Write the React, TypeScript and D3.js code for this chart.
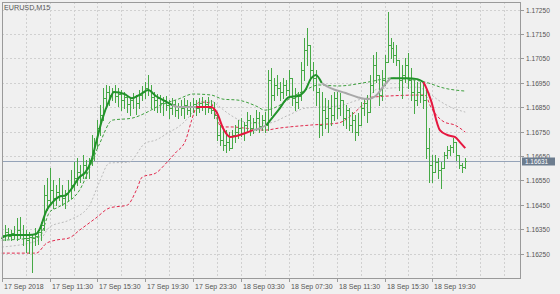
import React from "react";
import * as d3 from "d3";

const SYMBOL = "EURUSD,M15";

const opens = [
  1.16314, 1.16326, 1.16338, 1.16322, 1.16334, 1.16326, 1.16346, 1.1633, 1.16314, 1.16305,
  1.16318, 1.16314, 1.16322, 1.16338, 1.16367, 1.1649, 1.16469, 1.1651, 1.16478, 1.16502,
  1.1649, 1.16478, 1.16498, 1.1651, 1.16531, 1.1656, 1.16584, 1.16572, 1.16613, 1.166,
  1.16633, 1.16674, 1.16707, 1.16764, 1.16818, 1.16887, 1.16912, 1.169, 1.16912, 1.16896,
  1.16904, 1.16879, 1.16891, 1.16863, 1.16879, 1.16891, 1.16867, 1.169, 1.16912, 1.16928,
  1.1692, 1.16891, 1.16879, 1.16887, 1.16867, 1.16879, 1.16859, 1.16846, 1.16863, 1.16838,
  1.16855, 1.16846, 1.16859, 1.16838, 1.16855, 1.16863, 1.16846, 1.16867, 1.16855, 1.16863,
  1.16846, 1.16838, 1.16818, 1.16736, 1.16715, 1.16695, 1.16707, 1.16682, 1.16736, 1.16748,
  1.16764, 1.16744, 1.16777, 1.16797, 1.16764, 1.16789, 1.16805, 1.16773, 1.16797, 1.16777,
  1.16961, 1.169, 1.16941, 1.16928, 1.16912, 1.16941, 1.1692, 1.16969, 1.16887, 1.16871,
  1.16896, 1.17002, 1.17084, 1.17105, 1.17002, 1.16969, 1.16912, 1.16777, 1.16838, 1.16805,
  1.16846, 1.16818, 1.16887, 1.16846, 1.16879, 1.16805, 1.16838, 1.16777, 1.16797, 1.16748,
  1.16777, 1.16846, 1.16867, 1.1683, 1.16941, 1.17023, 1.16982, 1.169, 1.16961, 1.17035,
  1.17105, 1.17092, 1.17064, 1.17043, 1.16961, 1.16982, 1.17023, 1.16961, 1.16912, 1.16879,
  1.16912, 1.169, 1.16879, 1.16682, 1.16613, 1.16584, 1.16625, 1.16592, 1.166, 1.16654,
  1.16674, 1.16687, 1.16707, 1.16654, 1.16613, 1.16605,
];
const highs = [
  1.16359, 1.16367, 1.16355, 1.16346, 1.16363, 1.16396, 1.164, 1.16367, 1.16346, 1.16338,
  1.16326, 1.16355, 1.16346, 1.16379, 1.16531, 1.1656, 1.166, 1.16551, 1.16531, 1.1656,
  1.16531, 1.1651, 1.16551, 1.16592, 1.16625, 1.16641, 1.16613, 1.16654, 1.16633, 1.16641,
  1.16736, 1.16723, 1.16797, 1.16859, 1.16928, 1.16941, 1.16937, 1.16928, 1.16941, 1.16928,
  1.1692, 1.16912, 1.169, 1.16887, 1.16908, 1.169, 1.1692, 1.16937, 1.16953, 1.16982,
  1.16941, 1.16912, 1.16904, 1.169, 1.16891, 1.16896, 1.16879, 1.16887, 1.16879, 1.16867,
  1.16879, 1.16887, 1.16879, 1.16871, 1.16887, 1.16879, 1.16887, 1.16891, 1.16879, 1.16891,
  1.16879, 1.16871, 1.1683, 1.16777, 1.16764, 1.16756, 1.16748, 1.16756, 1.16777, 1.16797,
  1.16805, 1.16789, 1.1683, 1.16818, 1.16805, 1.16838, 1.1683, 1.16818, 1.1683, 1.17002,
  1.1701, 1.16969, 1.16982, 1.16953, 1.16969, 1.16961, 1.17002, 1.16969, 1.16928, 1.16912,
  1.17035, 1.17133, 1.17174, 1.17105, 1.17035, 1.17002, 1.16928, 1.16912, 1.16887, 1.16879,
  1.169, 1.16912, 1.16912, 1.16908, 1.16879, 1.16859, 1.16846, 1.1683, 1.16818, 1.16826,
  1.16871, 1.16887, 1.169, 1.16982, 1.17064, 1.17076, 1.16982, 1.17002, 1.17064, 1.1724,
  1.17133, 1.17117, 1.17105, 1.17043, 1.17023, 1.17051, 1.17072, 1.1701, 1.16961, 1.16953,
  1.16953, 1.16949, 1.16928, 1.16764, 1.16654, 1.16654, 1.16641, 1.16625, 1.16666, 1.16691,
  1.16695, 1.16723, 1.16707, 1.16654, 1.16621, 1.16641,
];
const lows = [
  1.16297, 1.16305, 1.16314, 1.16305, 1.16314, 1.16305, 1.16314, 1.16285, 1.16256, 1.16252,
  1.16174, 1.16285, 1.16289, 1.16305, 1.16346, 1.16428, 1.16449, 1.16437, 1.16449, 1.16469,
  1.16449, 1.16437, 1.16469, 1.16478, 1.1651, 1.16531, 1.16543, 1.1656, 1.1656, 1.1656,
  1.16613, 1.16633, 1.16682, 1.16736, 1.16797, 1.16846, 1.16859, 1.16879, 1.16871, 1.16855,
  1.16838, 1.16846, 1.1683, 1.16818, 1.16846, 1.16822, 1.16846, 1.16879, 1.16887, 1.169,
  1.16846, 1.16838, 1.1683, 1.1683, 1.16818, 1.16838, 1.16805, 1.16822, 1.16814, 1.16805,
  1.16818, 1.16805, 1.16822, 1.16814, 1.1683, 1.16818, 1.1683, 1.16838, 1.16822, 1.1683,
  1.16826, 1.16805, 1.16715, 1.16695, 1.16674, 1.16666, 1.16674, 1.16682, 1.16707, 1.16723,
  1.16732, 1.16715, 1.16748, 1.16736, 1.16744, 1.16756, 1.16748, 1.16756, 1.16748, 1.16756,
  1.16818, 1.16879, 1.169, 1.16879, 1.16887, 1.169, 1.16891, 1.16859, 1.16838, 1.16846,
  1.16879, 1.16961, 1.17023, 1.16961, 1.1692, 1.16859, 1.16728, 1.16736, 1.16764, 1.16748,
  1.16777, 1.16797, 1.16805, 1.16818, 1.16777, 1.16764, 1.16756, 1.16748, 1.16715, 1.16736,
  1.16777, 1.16818, 1.16789, 1.1683, 1.16912, 1.16953, 1.16859, 1.16879, 1.16941, 1.17035,
  1.17051, 1.17035, 1.17023, 1.1692, 1.16887, 1.16953, 1.16928, 1.16879, 1.16826, 1.16859,
  1.16871, 1.16846, 1.16641, 1.16543, 1.16543, 1.16584, 1.1656, 1.16519, 1.166, 1.16641,
  1.16654, 1.16666, 1.16633, 1.166, 1.16584, 1.166,
];
const closes = [
  1.16326, 1.16338, 1.16322, 1.16334, 1.16326, 1.16346, 1.1633, 1.16314, 1.16305, 1.16318,
  1.16314, 1.16322, 1.16338, 1.16367, 1.1649, 1.16469, 1.1651, 1.16478, 1.16502, 1.1649,
  1.16478, 1.16498, 1.1651, 1.16531, 1.1656, 1.16584, 1.16572, 1.16613, 1.166, 1.16633,
  1.16674, 1.16707, 1.16764, 1.16818, 1.16887, 1.16912, 1.169, 1.16912, 1.16896, 1.16904,
  1.16879, 1.16891, 1.16863, 1.16879, 1.16891, 1.16867, 1.169, 1.16912, 1.16928, 1.1692,
  1.16891, 1.16879, 1.16887, 1.16867, 1.16879, 1.16859, 1.16846, 1.16863, 1.16838, 1.16855,
  1.16846, 1.16859, 1.16838, 1.16855, 1.16863, 1.16846, 1.16867, 1.16855, 1.16863, 1.16846,
  1.16838, 1.16818, 1.16736, 1.16715, 1.16695, 1.16707, 1.16682, 1.16736, 1.16748, 1.16764,
  1.16744, 1.16777, 1.16797, 1.16764, 1.16789, 1.16805, 1.16773, 1.16797, 1.16777, 1.16961,
  1.169, 1.16941, 1.16928, 1.16912, 1.16941, 1.1692, 1.16969, 1.16887, 1.16871, 1.16896,
  1.17002, 1.17084, 1.17105, 1.17002, 1.16969, 1.16912, 1.16777, 1.16838, 1.16805, 1.16846,
  1.16818, 1.16887, 1.16846, 1.16879, 1.16805, 1.16838, 1.16777, 1.16797, 1.16748, 1.16777,
  1.16846, 1.16867, 1.1683, 1.16941, 1.17023, 1.16982, 1.169, 1.16961, 1.17035, 1.17105,
  1.17092, 1.17064, 1.17043, 1.16961, 1.16982, 1.17023, 1.16961, 1.16912, 1.16879, 1.16912,
  1.169, 1.16879, 1.16682, 1.16613, 1.16584, 1.16625, 1.16592, 1.166, 1.16654, 1.16674,
  1.16687, 1.16707, 1.16654, 1.16613, 1.16605, 1.16631,
];

// Moving average (bar index, value, trend: 1 up, 0 flat, -1 down)
const maIdx = [
  0, 2.5, 9, 11.5, 12.5, 15, 17, 19, 21.5, 23, 26, 28, 30, 31.5, 33.5, 36, 37.5, 41, 43.5, 46.5,
  49, 51.5, 54, 57, 59, 65, 70, 72, 74, 76.5, 78.5, 81.5, 84, 86.5, 88.5, 92.5, 96, 99, 101.5,
  103.5, 105, 107, 110, 115, 119, 122.5, 125, 128, 130, 135.5, 139, 141, 142, 143.5, 146.5, 149,
  151.5, 153.5, 155,
];
const maVal = [
  1.16314, 1.16326, 1.16326, 1.1633, 1.16346, 1.16428, 1.16461, 1.16482, 1.1649, 1.1651,
  1.16564, 1.16584, 1.16633, 1.16703, 1.16797, 1.16879, 1.16912, 1.16904, 1.16887, 1.16904,
  1.1692, 1.16896, 1.16879, 1.16859, 1.16851, 1.16851, 1.16851, 1.16826, 1.16764, 1.16728,
  1.16732, 1.16744, 1.16756, 1.16764, 1.16777, 1.16838, 1.16891, 1.16896, 1.1692, 1.16969,
  1.16982, 1.16949, 1.16928, 1.16908, 1.16891, 1.16883, 1.16896, 1.16941, 1.16969, 1.16969,
  1.16965, 1.16953, 1.16928, 1.16879, 1.16756, 1.16736, 1.16728, 1.16703, 1.16682,
];
const maTrend = [
  1, 1, 1, 1, 1, 1, 1, 1, 1, 1, 1, 1, 1, 1, 1, 1, 1, 1, 1, 1, 1, 1, 1,
  0, 0,
  -1, -1, -1, -1, -1, -1, -1,
  0, 0,
  1, 1, 1, 1, 1, 1, 1,
  0, 0, 0, 0, 0, 0, 0,
  1, 1, 1,
  -1, -1, -1, -1, -1, -1, -1, -1,
];

const upperIdx = [0, 12.5, 16, 19, 26, 32.5, 37, 43.5, 48, 52.5, 59, 64, 70, 74, 79, 85, 88, 92.5, 96, 101.5, 106, 112.5, 122.5, 130, 141.5, 148, 155];
const upperVal = [
  1.16305, 1.16318, 1.1642, 1.16441, 1.1651, 1.16695, 1.16797, 1.16805, 1.16826, 1.16855,
  1.16883, 1.16904, 1.169, 1.16883, 1.16879, 1.16855, 1.16838, 1.16855, 1.16883, 1.1692,
  1.16941, 1.16937, 1.16953, 1.16969, 1.16953, 1.16928, 1.16916,
];
const midIdx = [0, 12.5, 16, 22.5, 29, 32.5, 36, 42.5, 48, 51.5, 56, 59, 62.5, 65, 67.5, 70, 72.5, 75.5, 83.5, 89, 96, 101.5, 112.5, 119, 122.5, 125.5, 139, 141.5, 146, 150, 155];
const midVal = [
  1.16277, 1.16305, 1.16359, 1.16387, 1.16441, 1.16539, 1.16621, 1.16625, 1.16703, 1.16715,
  1.16748, 1.16769, 1.16809, 1.16851, 1.16875, 1.16875, 1.16855, 1.16826, 1.16785, 1.16785,
  1.16818, 1.16846, 1.16855, 1.16879, 1.16891, 1.16924, 1.16932, 1.1692, 1.16879, 1.16851,
  1.1683,
];
const lowerIdx = [0, 11.5, 15, 18, 22.5, 26, 31.5, 36, 42, 45, 47, 51.5, 55, 58, 61.5, 63.5, 65, 66, 70, 71.5, 73.5, 77, 81.5, 88, 92.5, 103.5, 112.5, 117, 120, 123.5, 141.5, 143.5, 148, 151.5, 155];
const lowerVal = [
  1.16252, 1.16252, 1.16293, 1.16305, 1.16314, 1.16346, 1.16396, 1.16437, 1.16449, 1.1651,
  1.16564, 1.1658, 1.16621, 1.16662, 1.16715, 1.16797, 1.16851, 1.16871, 1.16867, 1.16818,
  1.16769, 1.16769, 1.16764, 1.16756, 1.16764, 1.16777, 1.16785, 1.16818, 1.16851, 1.16891,
  1.169, 1.16851, 1.16789, 1.16777, 1.16748,
];

const timeTickIdx = [0, 16, 32, 48, 64, 80, 96, 112, 128, 144];
const timeTickLabels = [
  "17 Sep 2018", "17 Sep 11:30", "17 Sep 15:30", "17 Sep 19:30", "17 Sep 23:30",
  "18 Sep 03:30", "18 Sep 07:30", "18 Sep 11:30", "18 Sep 15:30", "18 Sep 19:30",
];
const priceTicks = [1.1625, 1.1635, 1.1645, 1.1655, 1.1665, 1.1675, 1.1685, 1.1695, 1.1705, 1.1715, 1.1725];
const lastPrice = 1.16631;

const W = 560, H = 294;
const L = 2, R = 521, T = 2, B = 278;
const FONT = "'Liberation Sans', Arial, sans-serif";

export default function App() {
  const x = d3.scaleLinear().domain([0, 155]).range([1.8, 1.8 + 155 * 2.99]);
  const y = d3.scaleLinear().domain([1.1625, 1.1725]).range([253.6, 9.6]);

  const gridX = d3.range(8, 176, 8).map((i) => Math.round(x(i)) + 0.5).filter((v) => v < R);
  const line = d3
    .line<[number, number]>()
    .x((d) => x(d[0]))
    .y((d) => y(d[1]))
    .curve(d3.curveMonotoneX);

  const barsPath = opens
    .map((o, i) => {
      const n = Math.round(x(i));
      const yh = Math.round(y(highs[i]));
      const yl = Math.round(y(lows[i]));
      const yo = Math.round(y(o)) + 0.5;
      const yc = Math.round(y(closes[i])) + 0.5;
      return `M${n + 0.5},${yh}V${yl + 1}M${n - 1},${yo}H${n}M${n + 1},${yc}H${n + 2}`;
    })
    .join("");

  const segs: { pts: [number, number][]; t: number }[] = [];
  let start = 0;
  for (let k = 1; k < maIdx.length; k++) {
    if (k === maIdx.length - 1 || maTrend[k] !== maTrend[start]) {
      const pts: [number, number][] = [];
      for (let j = start; j <= k; j++) pts.push([maIdx[j], maVal[j]]);
      segs.push({ pts, t: maTrend[start] });
      start = k;
    }
  }
  const trendColor = (t: number) => (t > 0 ? "#22922a" : t < 0 ? "#e5173f" : "#a8a8a8");

  const zip = (a: number[], b: number[]) => a.map((v, i) => [v, b[i]] as [number, number]);
  const yLast = Math.round(y(lastPrice)) + 0.5;

  return (
    <div style={{ position: "absolute", left: 0, top: 0 }}>
      <svg width={W} height={H} style={{ display: "block", background: "#f0f0f0" }} fontFamily={FONT}>
        <rect x={0} y={0} width={W} height={H} fill="#f0f0f0" />
        {priceTicks.map((p) => (
          <line key={"gy" + p} x1={L} x2={R} y1={Math.round(y(p)) + 0.5} y2={Math.round(y(p)) + 0.5} stroke="#d0d0d0" strokeDasharray="2,2" />
        ))}
        {gridX.map((gx) => (
          <line key={"gx" + gx} x1={gx} x2={gx} y1={T} y2={B} stroke="#d0d0d0" strokeDasharray="2,2" />
        ))}
        <line x1={L} x2={R} y1={yLast} y2={yLast} stroke="#95a3b8" strokeWidth={1} />
        <path d={line(zip(midIdx, midVal)) || ""} fill="none" stroke="#bcbcbc" strokeWidth={1} strokeDasharray="2,2" />
        <path d={line(zip(upperIdx, upperVal)) || ""} fill="none" stroke="#3d9f3d" strokeWidth={1} strokeDasharray="3,2" />
        <path d={line(zip(lowerIdx, lowerVal)) || ""} fill="none" stroke="#e2284c" strokeWidth={1} strokeDasharray="3,2" />
        <path d={barsPath} fill="none" stroke="#46a946" strokeWidth={1} />
        {segs.map((s, i) => (
          <path key={"ma" + i} d={line(s.pts) || ""} fill="none" stroke={trendColor(s.t)} strokeWidth={2} strokeLinejoin="round" />
        ))}
        <rect x={L + 0.5} y={T + 0.5} width={R - L - 1} height={B - T} fill="none" stroke="#9a9a9a" />
        <text x={4} y={10} fontSize={7.2} fill="#555">{SYMBOL}</text>
        {priceTicks.map((p) => {
          const yy = Math.round(y(p)) + 0.5;
          return (
            <g key={"pt" + p}>
              <line x1={R} x2={R + 3} y1={yy} y2={yy} stroke="#9a9a9a" />
              <text x={R + 5} y={yy + 2} fontSize={6.6} fill="#555">{p.toFixed(5)}</text>
            </g>
          );
        })}
        <rect x={R + 1} y={yLast - 4} width={33} height={8} fill="#6c7c8e" />
        <text x={R + 4} y={yLast + 2.6} fontSize={6.4} fill="#ffffff">{lastPrice.toFixed(5)}</text>
        {timeTickIdx.map((ti, k) => {
          const tx = Math.round(x(ti)) + 0.5;
          return (
            <g key={"tt" + ti}>
              <line x1={tx} x2={tx} y1={B} y2={B + 4} stroke="#9a9a9a" />
              <text x={tx + 1.5} y={289} fontSize={7} fill="#555">{timeTickLabels[k]}</text>
            </g>
          );
        })}
      </svg>
    </div>
  );
}
